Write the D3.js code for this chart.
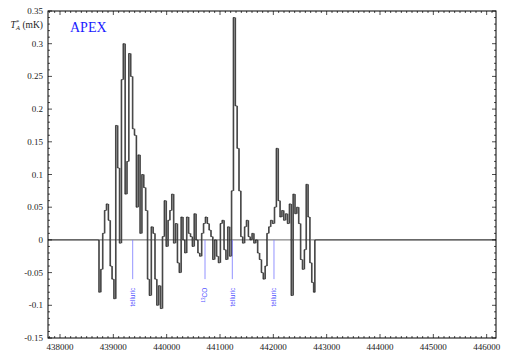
<!DOCTYPE html>
<html><head><meta charset="utf-8">
<script src="https://cdn.jsdelivr.net/npm/d3@7"></script>
<style>body{margin:0;background:#fff}svg{display:block}</style>
</head><body>
<script>
// ---- data ----
const chanStart = 438725;   // MHz, left edge of first channel
const chanWidth = 35;       // MHz
const values = [
 -0.08,-0.045,0.01,0.045,0.055,0.03,-0.04,-0.06,-0.09,
 0.175,0.11,-0.005,0.245,0.30,0.07,0.12,0.285,0.25,0.17,
 0.16,0.05,0.13,0.01,0.10,0.08,0.045,-0.06,-0.085,0.02,
 0.01,-0.06,-0.10,-0.07,-0.105,0.005,0.06,-0.01,0.03,0.045,
 0.07,-0.005,0.025,-0.035,-0.05,0.035,0.0,-0.02,0.035,0.01,
 0.005,-0.01,0.04,0.0,-0.02,-0.025,0.01,0.025,0.035,0.025,
 0.015,0.005,-0.03,0.0,-0.025,-0.035,0.025,0.03,-0.015,-0.03,0.02,
 -0.025,0.075,0.34,0.205,0.14,0.075,0.005,-0.005,0.02,0.03,
 0.005,0.0,0.01,-0.005,0.0,-0.02,-0.03,-0.05,-0.06,-0.04,
 0.01,0.02,0.03,0.025,0.05,0.14,0.06,0.035,0.045,0.03,
 0.04,0.025,0.055,-0.085,0.07,0.04,0.05,0.025,-0.03,-0.045,
 -0.015,0.085,0.035,-0.035,-0.065,-0.08
];
const xTicks = [438000,439000,440000,441000,442000,443000,444000,445000,446000];
const yTicks = [-0.15,-0.1,-0.05,0,0.05,0.1,0.15,0.2,0.25,0.3,0.35];
const yTickLabels = ["-0.15","-0.1","-0.05","0","0.05","0.1","0.15","0.2","0.25","0.3","0.35"];
const lineFreqs = [439363, 440719, 441231, 442012];
const lineNames = ["telluric","13CO","telluric","telluric"];

// ---- layout ----
const W = 509, H = 356;
const L = 48, R = 496, T = 11, B = 338;
const x = d3.scaleLinear().domain([437775, 446175]).range([L, R]);
const y = d3.scaleLinear().domain([-0.15, 0.35]).range([B, T]);

const svg = d3.select("body").append("svg").attr("width", W).attr("height", H);
const serif = "'Liberation Serif','DejaVu Serif',serif";

svg.append("clipPath").attr("id","clip").append("rect")
  .attr("x",L).attr("y",T).attr("width",R-L).attr("height",B-T);
const plot = svg.append("g").attr("clip-path","url(#clip)");

// zero line
plot.append("line").attr("x1",L).attr("x2",R).attr("y1",y(0)).attr("y2",y(0))
  .attr("stroke","#000").attr("stroke-width",0.6);

// gray jump bars
const edges = values.map((v,i)=>chanStart + i*chanWidth);
const endEdge = chanStart + values.length*chanWidth;
const prevVals = values.map((v,i)=> i===0 ? 0 : values[i-1]);
const chPx = x(chanStart+chanWidth)-x(chanStart);
const bw = chPx*0.65;
plot.selectAll("rect.jump").data(values).enter().append("rect")
  .attr("class","jump")
  .attr("x",(d,i)=>x(edges[i]))
  .attr("width",bw)
  .attr("y",(d,i)=>y(Math.max(d,prevVals[i])))
  .attr("height",(d,i)=>Math.abs(y(d)-y(prevVals[i])))
  .attr("fill","#5e5e5e");
plot.append("rect").attr("x",x(endEdge)-bw).attr("width",bw)
  .attr("y",y(0)).attr("height",y(values[values.length-1])-y(0)).attr("fill","#5e5e5e");

// step line
let p = "M"+x(x.domain()[0])+","+y(0)+"H"+x(edges[0]);
values.forEach((v,i)=>{ p += "V"+y(v)+"H"+x(edges[i]+chanWidth); });
p += "V"+y(0)+"H"+x(x.domain()[1]);
plot.append("path").attr("d",p).attr("fill","none").attr("stroke","#000").attr("stroke-width",0.6);

// annotation lines
const blue = "#5555ff";
plot.selectAll("line.ann").data(lineFreqs).enter().append("line")
  .attr("x1",d=>x(d)).attr("x2",d=>x(d)).attr("y1",y(0)).attr("y2",y(-0.06))
  .attr("stroke","#7777ff").attr("stroke-width",0.8);
const ann = svg.selectAll("text.ann").data(lineFreqs).enter().append("text")
  .attr("transform",d=>`translate(${x(d)+2.2},${y(-0.073)}) rotate(-90)`)
  .attr("text-anchor","end")
  .attr("font-family","'Liberation Sans',Arial,sans-serif").attr("font-size",6.5)
  .attr("fill",blue);
ann.each(function(d,i){
  const t = d3.select(this);
  if (lineNames[i]==="13CO") {
    t.append("tspan").attr("font-size",4.5).attr("dy",-2).text("13");
    t.append("tspan").attr("dy",2).text("CO");
  } else t.text(lineNames[i]);
});

// frame
svg.append("rect").attr("x",L).attr("y",T).attr("width",R-L).attr("height",B-T)
  .attr("fill","none").attr("stroke","#000").attr("stroke-width",1);

// ticks
const g = svg.append("g").attr("stroke","#000").attr("stroke-width",0.7);
d3.range(437800, 446200, 100).forEach(v=>{
  const len = v%1000===0?4:2;
  g.append("line").attr("x1",x(v)).attr("x2",x(v)).attr("y1",B).attr("y2",B-len);
  g.append("line").attr("x1",x(v)).attr("x2",x(v)).attr("y1",T).attr("y2",T+len);
});
d3.range(-150, 351, 10).forEach(k=>{
  const v = k/1000;
  const len = k%50===0?4:2;
  g.append("line").attr("x1",L).attr("x2",L+len).attr("y1",y(v)).attr("y2",y(v));
  g.append("line").attr("x1",R).attr("x2",R-len).attr("y1",y(v)).attr("y2",y(v));
});

// tick labels
svg.selectAll("text.xt").data(xTicks).enter().append("text")
  .attr("x",d=>x(d)).attr("y",350).attr("text-anchor","middle")
  .attr("font-family",serif).attr("font-size",9).attr("fill","#222").text(d=>d);
svg.selectAll("text.yt").data(yTicks).enter().append("text")
  .attr("x",43).attr("y",d=>y(d)+3).attr("text-anchor","end")
  .attr("font-family",serif).attr("font-size",9).attr("fill","#222").text((d,i)=>yTickLabels[i]);

// axis title
const yl = svg.append("text").attr("x",43).attr("y",28).attr("text-anchor","end")
  .attr("font-family",serif).attr("font-size",9.5).attr("fill","#222");
yl.append("tspan").attr("font-style","italic").text("T");
yl.append("tspan").attr("font-size",6.5).attr("dy",-4).attr("dx",0.3).text("*");
yl.append("tspan").attr("font-size",6.5).attr("font-style","italic").attr("dy",6).attr("dx",-3.2).text("A");
yl.append("tspan").attr("dy",-2).text(" (mK)");

// APEX label
svg.append("text").attr("x",70).attr("y",32).attr("font-family",serif)
  .attr("font-size",14).attr("fill","#1a1aff").text("APEX");
</script>
</body></html>
